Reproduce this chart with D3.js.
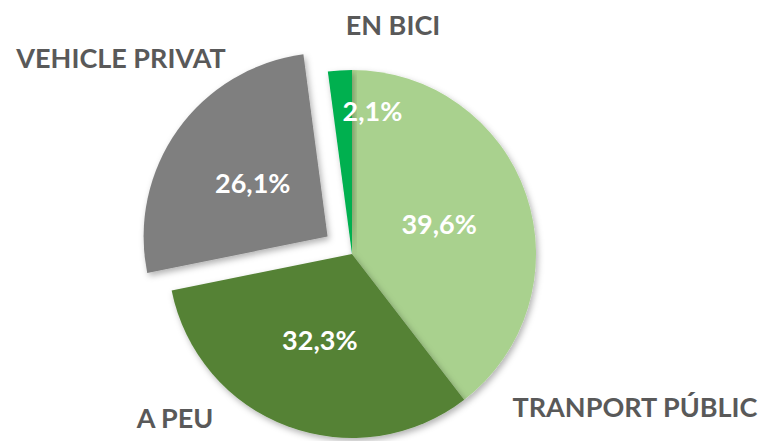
<!DOCTYPE html>
<html>
<head>
<meta charset="utf-8">
<script src="https://cdn.jsdelivr.net/npm/d3@7"></script>
<style>
  html, body { margin: 0; padding: 0; background: #fff; }
  svg { display: block; }
</style>
</head>
<body>
<div id="chart"></div>
<script>
// ---- Data ----
const categories = ["TRANPORT PÚBLIC", "A PEU", "VEHICLE PRIVAT", "EN BICI"];
const values = [39.6, 32.3, 26.1, 2.1];
const valueLabels = ["39,6%", "32,3%", "26,1%", "2,1%"];
const colors = ["#A9D18E", "#548235", "#7F7F7F", "#00B050"];
const exploded = [0, 0, 30, 0];

// ---- Layout ----
const W = 762, H = 441;
const cx = 352, cy = 254, R = 184;
// inner label: radius fraction, anchor
const innerLabelLayout = [
  { k: 0.5, anchor: "middle" },
  { k: 0.5, anchor: "middle" },
  { k: 0.5, anchor: "middle" },
  { k: 0.78, anchor: "start" }
];
// outer category label positions (relative to pie centre)
const outerLabelLayout = [
  { x: 283, y: 153 },
  { x: -177, y: 164 },
  { x: -231, y: -196 },
  { x: 41, y: -229 }
];

const svg = d3.select("#chart").append("svg")
  .attr("width", W).attr("height", H);

const defs = svg.append("defs");
const f = defs.append("filter").attr("id", "shadow")
  .attr("x", "-20%").attr("y", "-20%").attr("width", "140%").attr("height", "140%");
f.append("feDropShadow").attr("dx", 2).attr("dy", 3).attr("stdDeviation", 3)
  .attr("flood-color", "#000").attr("flood-opacity", 0.3);

const pie = d3.pie().sort(null).value(d => d)(values);
const arc = d3.arc().innerRadius(0).outerRadius(R);

const g = svg.append("g").attr("transform", `translate(${cx},${cy})`);

function offset(d, i) {
  const a = (d.startAngle + d.endAngle) / 2;
  const o = exploded[i];
  return [Math.sin(a) * o, -Math.cos(a) * o];
}

const slices = g.selectAll("g.slice").data(pie).join("g")
  .attr("class", "slice")
  .attr("transform", (d, i) => { const [ox, oy] = offset(d, i); return `translate(${ox},${oy})`; });

slices.append("path")
  .attr("d", arc)
  .attr("fill", (d, i) => colors[i])
  .attr("filter", "url(#shadow)");

slices.append("text")
  .attr("x", (d, i) => {
    const a = (d.startAngle + d.endAngle) / 2;
    return Math.sin(a) * R * innerLabelLayout[i].k;
  })
  .attr("y", (d, i) => {
    const a = (d.startAngle + d.endAngle) / 2;
    return -Math.cos(a) * R * innerLabelLayout[i].k;
  })
  .attr("dy", "0.36em")
  .attr("text-anchor", (d, i) => innerLabelLayout[i].anchor)
  .attr("fill", "#fff")
  .attr("font-family", "Lato, 'Open Sans', sans-serif")
  .attr("font-weight", "bold")
  .attr("font-size", 27)
  .text((d, i) => valueLabels[i]);

g.selectAll("text.cat").data(categories).join("text")
  .attr("class", "cat")
  .attr("x", (d, i) => outerLabelLayout[i].x)
  .attr("y", (d, i) => outerLabelLayout[i].y)
  .attr("dy", "0.36em")
  .attr("text-anchor", "middle")
  .attr("fill", "#595959")
  .attr("font-family", "Lato, 'Open Sans', sans-serif")
  .attr("font-weight", "bold")
  .attr("font-size", 27)
  .text(d => d);
</script>
</body>
</html>
